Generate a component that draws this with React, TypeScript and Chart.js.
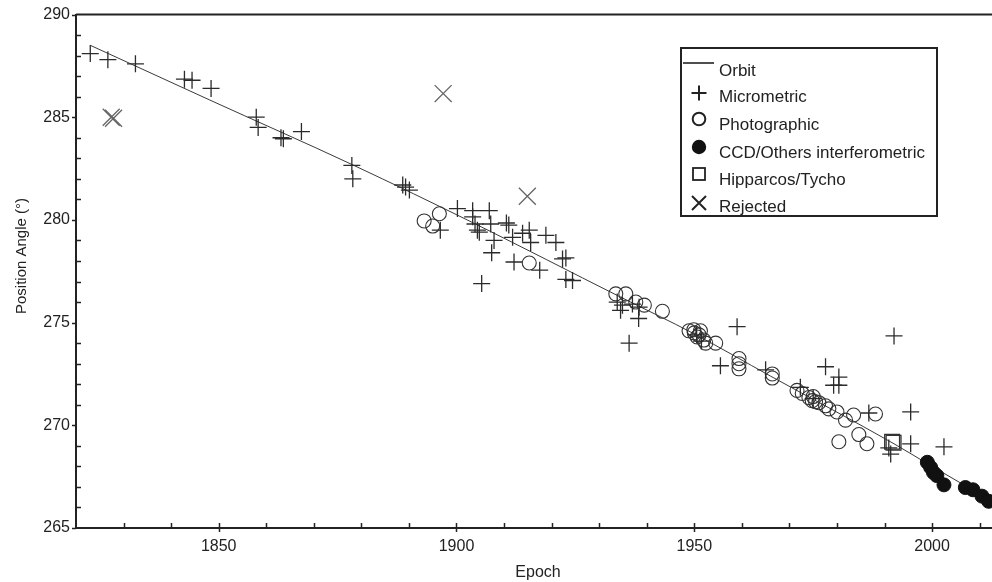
import { useEffect, useRef } from 'react';
import { Chart, registerables } from 'chart.js';

Chart.register(...registerables);

// ---- Data ----
const orbitYears = [1823, 1848, 1878, 1904, 1934, 1950, 1966, 1992, 2000, 2012.6];
const orbitPA = [288.5, 285.85, 282.7, 279.8, 276.3, 274.45, 272.4, 269.1, 268.0, 266.3];

const microYears = [
  1823.0, 1826.7, 1832.5, 1842.8, 1844.4, 1848.4, 1857.9, 1858.3, 1863.1, 1863.6,
  1867.4, 1878.0, 1878.2, 1888.7, 1889.3, 1890.1, 1896.6, 1900.2, 1903.4, 1903.4,
  1903.9, 1904.4, 1904.8, 1906.9, 1907.2, 1907.9, 1907.4, 1905.3, 1910.5, 1911.0,
  1911.8, 1912.1, 1913.9, 1915.3, 1915.6, 1917.5, 1918.8, 1920.9, 1922.3, 1923.0,
  1923.0, 1924.4, 1933.8, 1934.9, 1934.5, 1937.0, 1938.4, 1938.3, 1936.3, 1950.5,
  1951.5, 1959.0, 1955.5, 1965.0, 1972.3, 1975.0, 1977.6, 1980.4, 1979.3, 1980.4,
  1986.7, 1992.0, 1995.5, 1995.5, 1991.3, 1990.9, 2002.5,
];
const microPA = [
  288.1, 287.8, 287.6, 286.85, 286.8, 286.4, 285.0, 284.5, 284.0, 283.95,
  284.3, 282.65, 282.0, 281.7, 281.6, 281.45, 279.5, 280.55, 280.45, 280.15,
  279.8, 279.5, 279.4, 280.45, 279.8, 279.0, 278.4, 276.9, 279.85, 279.75,
  279.15, 277.95, 279.35, 279.5, 278.9, 277.55, 279.25, 278.9, 278.1, 278.15,
  277.1, 277.05, 276.0, 275.85, 275.6, 275.9, 275.75, 275.2, 274.0, 274.4,
  274.1, 274.8, 272.9, 272.7, 271.85, 271.3, 272.85, 272.35, 271.95, 271.95,
  270.6, 274.35, 270.65, 269.1, 268.6, 268.9, 268.95,
];

const photoYears = [
  1893.2, 1895.0, 1896.4, 1915.3, 1933.5, 1935.6, 1937.7, 1939.5, 1943.3, 1948.9,
  1949.9, 1951.3, 1950.6, 1952.0, 1952.4, 1954.5, 1950.0, 1951.0, 1959.4, 1959.4,
  1959.4, 1966.4, 1966.4, 1971.6, 1972.7, 1974.1, 1974.8, 1975.0, 1975.5, 1976.2,
  1977.6, 1978.3, 1980.0, 1981.8, 1983.5, 1988.1, 1984.6, 1986.3, 1980.4,
];
const photoPA = [
  279.95, 279.7, 280.3, 277.9, 276.4, 276.4, 276.0, 275.85, 275.55, 274.6,
  274.65, 274.6, 274.3, 274.15, 274.0, 274.0, 274.5, 274.4, 273.25, 273.0,
  272.75, 272.5, 272.3, 271.7, 271.55, 271.35, 271.2, 271.4, 271.15, 271.1,
  270.95, 270.8, 270.65, 270.25, 270.5, 270.55, 269.55, 269.1, 269.2,
];

const ccdYears = [1999.0, 1999.7, 2000.3, 2001.0, 2002.5, 2007.0, 2008.6, 2010.5, 2011.9];
const ccdPA = [268.2, 267.95, 267.7, 267.55, 267.1, 266.97, 266.86, 266.55, 266.3];

const hipYears = [1991.6, 1991.9];
const hipPA = [269.2, 269.15];

const rejYears = [1827.4, 1827.9, 1897.2, 1914.9];
const rejPA = [285.0, 284.95, 286.15, 281.15];

const xTickValues = [1830, 1840, 1850, 1860, 1870, 1880, 1890, 1900, 1910, 1920, 1930, 1940, 1950, 1960, 1970, 1980, 1990, 2000, 2010];
const xTickLabels = ['1850', '1900', '1950', '2000'];
const yTickValues = [265, 266, 267, 268, 269, 270, 271, 272, 273, 274, 275, 276, 277, 278, 279, 280, 281, 282, 283, 284, 285, 286, 287, 288, 289, 290];
const yTickLabels = ['265', '270', '275', '280', '285', '290'];

const legendLabels = ['Orbit', 'Micrometric', 'Photographic', 'CCD/Others interferometric', 'Hipparcos/Tycho', 'Rejected'];

const X_MIN = 1820;
const X_MAX = 2012.6;
const Y_MIN = 265;
const Y_MAX = 290;

const FONT = '"Liberation Sans", Arial, sans-serif';

function pts(xs: number[], ys: number[]) {
  return xs.map((x, i) => ({ x, y: ys[i] }));
}

const decorPlugin = {
  id: 'decor',
  afterDraw(chart: any) {
    const { ctx, chartArea: a, scales } = chart;
    const xs = scales.x;
    const ys = scales.y;
    ctx.save();
    ctx.strokeStyle = '#222';
    // top border
    ctx.lineWidth = 2;
    ctx.beginPath();
    ctx.moveTo(a.left, a.top);
    ctx.lineTo(a.right + 2, a.top);
    ctx.stroke();
    // x tick marks
    ctx.lineWidth = 1.5;
    xTickValues.forEach((v) => {
      const px = Math.round(xs.getPixelForValue(v)) + 0.5;
      const major = xTickLabels.includes(String(v));
      ctx.beginPath();
      ctx.moveTo(px, a.bottom - 5);
      ctx.lineTo(px, a.bottom + (major ? 4 : 1));
      ctx.stroke();
    });
    // y tick marks
    yTickValues.forEach((v) => {
      const py = Math.round(ys.getPixelForValue(v)) + 0.5;
      const major = yTickLabels.includes(String(v));
      ctx.beginPath();
      if (major) {
        ctx.moveTo(a.left - 4, py);
        ctx.lineTo(a.left, py);
      } else {
        ctx.moveTo(a.left - 1, py);
        ctx.lineTo(a.left + 5, py);
      }
      ctx.stroke();
    });
    // axis titles
    ctx.fillStyle = '#222';
    ctx.font = `16px ${FONT}`;
    ctx.textAlign = 'center';
    ctx.textBaseline = 'middle';
    ctx.fillText('Epoch', (a.left + a.right) / 2 + 4, 573);
    ctx.save();
    ctx.translate(22, 256);
    ctx.rotate(-Math.PI / 2);
    ctx.font = `15px ${FONT}`;
    ctx.fillText('Position Angle (\u00B0)', 0, 0);
    ctx.restore();

    // legend
    const L = 681, T = 48, R = 937, B = 216;
    ctx.fillStyle = '#fff';
    ctx.fillRect(L, T, R - L, B - T);
    const sx = 699;
    const textX = 719;
    const textY = [71, 97, 125, 153, 180, 207];
    const symY = [63, 93, 119, 147, 174, 203];
    ctx.strokeStyle = '#222';
    ctx.fillStyle = '#111';
    // orbit line
    ctx.lineWidth = 1.6;
    ctx.beginPath();
    ctx.moveTo(683, symY[0]);
    ctx.lineTo(714, symY[0]);
    ctx.stroke();
    // plus
    ctx.lineWidth = 2;
    ctx.beginPath();
    ctx.moveTo(sx - 7.5, symY[1]);
    ctx.lineTo(sx + 7.5, symY[1]);
    ctx.moveTo(sx, symY[1] - 7.5);
    ctx.lineTo(sx, symY[1] + 7.5);
    ctx.stroke();
    // open circle
    ctx.beginPath();
    ctx.arc(sx, symY[2], 6.3, 0, Math.PI * 2);
    ctx.stroke();
    // filled circle
    ctx.beginPath();
    ctx.arc(sx, symY[3], 7.2, 0, Math.PI * 2);
    ctx.fill();
    // square
    ctx.lineWidth = 1.8;
    ctx.strokeRect(sx - 6, symY[4] - 6, 12, 12);
    // X
    ctx.lineWidth = 2;
    ctx.beginPath();
    ctx.moveTo(sx - 7, symY[5] - 7);
    ctx.lineTo(sx + 7, symY[5] + 7);
    ctx.moveTo(sx + 7, symY[5] - 7);
    ctx.lineTo(sx - 7, symY[5] + 7);
    ctx.stroke();
    // texts
    ctx.fillStyle = '#222';
    ctx.font = `17px ${FONT}`;
    ctx.textAlign = 'left';
    ctx.textBaseline = 'middle';
    legendLabels.forEach((t, i) => ctx.fillText(t, textX, textY[i]));
    // legend frame
    ctx.strokeStyle = '#222';
    ctx.lineWidth = 2;
    ctx.strokeRect(L, T, R - L, B - T);
    ctx.restore();
  },
};

export default function App() {
  const ref = useRef<HTMLCanvasElement | null>(null);

  useEffect(() => {
    document.body.style.margin = '0';
    const canvas = ref.current;
    if (!canvas) return;
    const chart = new Chart(canvas, {
      type: 'scatter',
      data: {
        datasets: [
          {
            label: 'Micrometric',
            data: pts(microYears, microPA),
            pointStyle: 'cross',
            pointRadius: 8.5,
            pointBorderColor: '#2b2b2b',
            borderColor: '#2b2b2b',
            pointBorderWidth: 1.3,
            pointBackgroundColor: 'rgba(0,0,0,0)',
          },
          {
            label: 'Photographic',
            data: pts(photoYears, photoPA),
            pointStyle: 'circle',
            pointRadius: 7,
            pointBorderColor: '#333',
            borderColor: '#333',
            pointBorderWidth: 1.1,
            pointBackgroundColor: 'rgba(0,0,0,0)',
          },
          {
            label: 'CCD/Others interferometric',
            data: pts(ccdYears, ccdPA),
            pointStyle: 'circle',
            pointRadius: 7,
            pointBorderColor: '#111',
            borderColor: '#111',
            pointBorderWidth: 1,
            pointBackgroundColor: '#111',
          },
          {
            label: 'Hipparcos/Tycho',
            data: pts(hipYears, hipPA),
            pointStyle: 'rect',
            pointRadius: 10.5,
            pointBorderColor: '#333',
            borderColor: '#333',
            pointBorderWidth: 1.3,
            pointBackgroundColor: 'rgba(0,0,0,0)',
          },
          {
            label: 'Rejected',
            data: pts(rejYears, rejPA),
            pointStyle: 'crossRot',
            pointRadius: 12,
            pointBorderColor: '#666',
            borderColor: '#666',
            pointBorderWidth: 1.3,
            pointBackgroundColor: 'rgba(0,0,0,0)',
          },
          {
            label: 'Orbit',
            data: pts(orbitYears, orbitPA),
            showLine: true,
            pointRadius: 0,
            borderColor: '#3a3a3a',
            borderWidth: 1,
            cubicInterpolationMode: 'monotone',
            fill: false,
          } as any,
        ],
      },
      options: {
        animation: false,
        responsive: false,
        devicePixelRatio: 1,
        layout: { autoPadding: false, padding: { left: 0, right: 0, top: 14.5, bottom: 0 } },
        plugins: {
          legend: { display: false },
          tooltip: { enabled: false },
          title: { display: false },
        },
        scales: {
          x: {
            type: 'linear',
            min: X_MIN,
            max: X_MAX,
            afterBuildTicks: (scale: any) => {
              scale.ticks = xTickValues.map((v) => ({ value: v }));
            },
            afterFit: (scale: any) => {
              scale.height = 54;
              scale.paddingLeft = 0;
              scale.paddingRight = 0;
            },
            grid: { display: true, drawOnChartArea: false, drawTicks: false },
            border: { display: true, color: '#222', width: 2 },
            ticks: {
              autoSkip: false,
              maxRotation: 0,
              padding: 9,
              color: '#222',
              font: { family: FONT, size: 16 },
              callback: (v: any) => (xTickLabels.includes(String(v)) ? String(v) : ''),
            },
          },
          y: {
            type: 'linear',
            min: Y_MIN,
            max: Y_MAX,
            afterBuildTicks: (scale: any) => {
              scale.ticks = yTickValues.map((v) => ({ value: v }));
            },
            afterFit: (scale: any) => {
              scale.width = 76;
              scale.paddingTop = 0;
              scale.paddingBottom = 0;
            },
            grid: { display: true, drawOnChartArea: false, drawTicks: false },
            border: { display: true, color: '#222', width: 2 },
            ticks: {
              autoSkip: false,
              padding: 6,
              color: '#222',
              font: { family: FONT, size: 16 },
              callback: (v: any) => (yTickLabels.includes(String(v)) ? String(v) : ''),
            },
          },
        },
      },
      plugins: [decorPlugin],
    });
    return () => chart.destroy();
  }, []);

  return (
    <div style={{ position: 'fixed', left: 0, top: 0, width: 992, height: 582, overflow: 'hidden', background: '#fff' }}>
      <canvas ref={ref} width={992} height={582} style={{ width: 992, height: 582, display: 'block' }} />
    </div>
  );
}
